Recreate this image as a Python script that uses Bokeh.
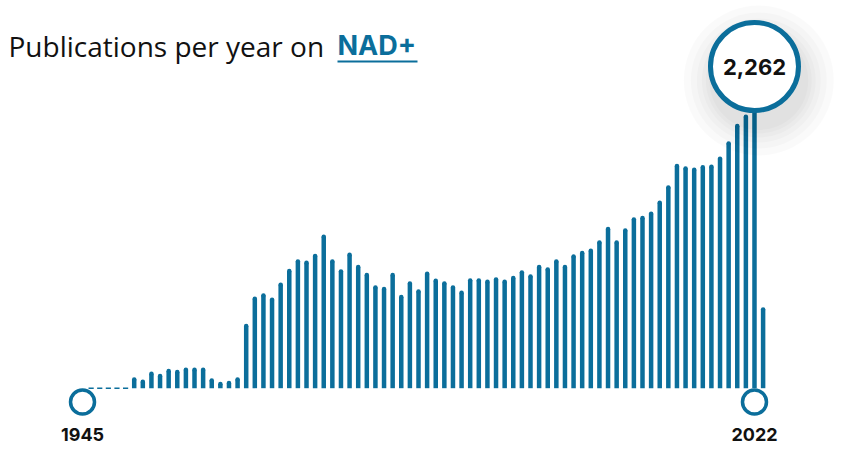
from bokeh.plotting import figure
from bokeh.models import Range1d, Label, BoxAnnotation
from bokeh.core.properties import value
from bokeh.embed import file_html
from bokeh.resources import INLINE

# publications per year, 1945-2023
years = list(range(1945, 2024))
counts = [
    0, 0, 0, 0, 0,
    89, 70, 135, 116, 157, 149, 167, 167, 167, 81,
    52, 60, 89, 520, 741, 768, 733, 854, 965, 1042,
    1032, 1086, 1242, 1042, 962, 1096, 997, 932, 832, 819,
    932, 755, 865, 800, 943, 886, 865, 832, 789, 889,
    889, 878, 897, 878, 908, 953, 921, 997, 978, 1042,
    997, 1083, 1110, 1129, 1196, 1304, 1196, 1293, 1382, 1393,
    1428, 1517, 1640, 1813, 1794, 1783, 1803, 1807, 1872, 1996,
    2136, 2211, 2262, 654,
]
first_label, last_label = "1945", "2022"
highlight_year = 2022
highlight_text = "2,262"

BLUE = "#0b6e9b"
W, H = 841, 451
X0, X1 = 1934.48, 2032.10
K = 8.08  # units per pixel
Y0, Y1 = -63.3 * K, 387.7 * K


def dx(px):
    return X0 + px / W * (X1 - X0)


def dy(py):
    return Y1 - py / H * (Y1 - Y0)


p = figure(width=W, height=H, x_range=Range1d(X0, X1), y_range=Range1d(Y0, Y1),
           x_axis_type=None, y_axis_type=None, output_backend="svg",
           toolbar_location=None, min_border=0)
p.grid.visible = False
p.outline_line_color = None

# bars with rounded tops
bw = 4.5
r = bw / 2 * K
xs = [y for y, c in zip(years, counts) if c > 0]
tops = [max(c - r, 0) for c in counts if c > 0]
p.segment(x0=xs, y0=0, x1=xs, y1=tops, line_width=bw, color=BLUE, line_cap="butt")
p.scatter(xs, tops, size=bw, color=BLUE, line_width=0)

# empty years as little dashes
zx = [y for y, c in zip(years, counts) if c == 0]
p.segment(x0=[y - 0.3 for y in zx], y0=0, x1=[y + 0.3 for y in zx], y1=0,
          line_width=1.5, color=BLUE)

# end markers
mx = [years[0] - 1, highlight_year]
p.scatter(mx, [dy(401.5)] * 2, size=24, fill_color="white", line_color=BLUE, line_width=3.5)
p.text(mx, [dy(434)] * 2, text=[first_label, last_label], text_align="center",
       text_baseline="middle", text_font=value("Inter"), text_font_style="bold",
       text_font_size="18px", text_color="#111111")

# bubble with soft shadow
by = dy(66)
for s in [150, 136, 124, 114, 106, 99]:
    p.scatter([highlight_year + 0.5], [by - 14 * K], size=s, color="black", alpha=0.02, line_width=0)
p.scatter([highlight_year], [by], size=88, fill_color="white", line_color=BLUE, line_width=5)
p.text([highlight_year], [by], text=[highlight_text], text_align="center",
       text_baseline="middle", text_font=value("Inter"), text_font_style="bold",
       text_font_size="22px", text_color="#111111")

# title
p.add_layout(Label(x=dx(8), y=dy(45), text="Publications per year on",
                   text_font="Open Sans", text_font_size="28px", text_color="#111111",
                   text_baseline="alphabetic"))
p.add_layout(Label(x=dx(337), y=dy(45), text="NAD+", text_font="Inter",
                   text_font_style="bold", text_font_size="27px", text_color=BLUE,
                   text_baseline="alphabetic"))
p.add_layout(BoxAnnotation(left=dx(337), right=dx(417), top=dy(60), bottom=dy(62),
                           fill_color=BLUE, fill_alpha=1, line_color=None))

open("out.html", "w").write(file_html(p, INLINE))
